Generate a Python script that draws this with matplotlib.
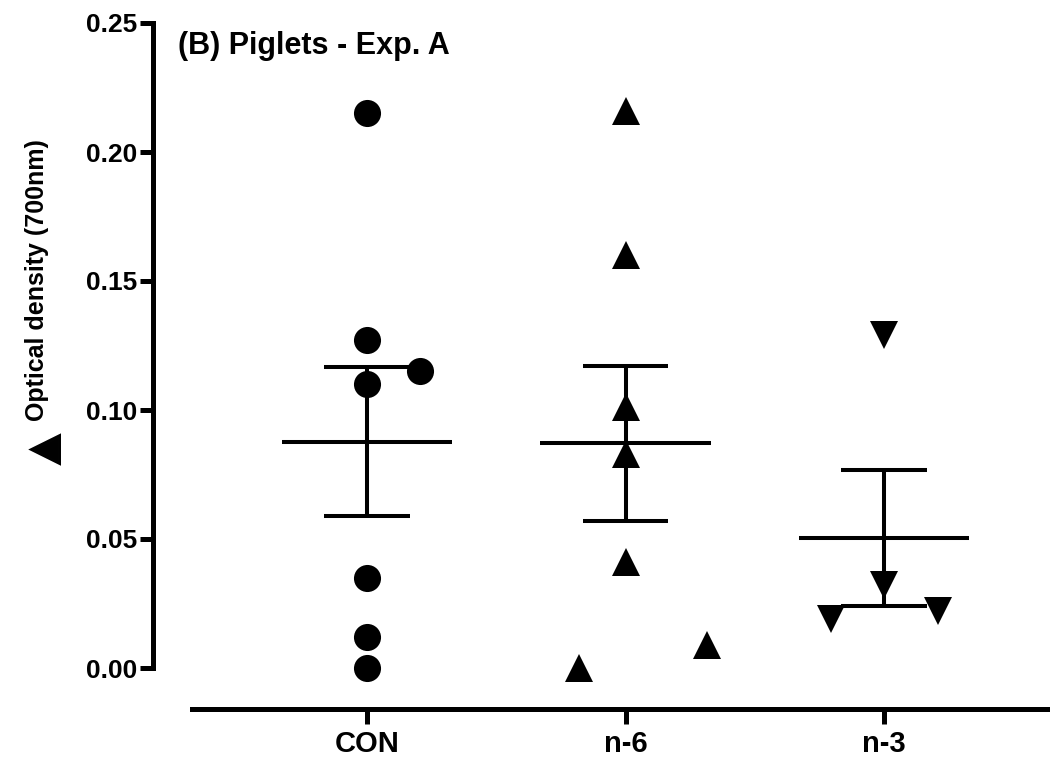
import numpy as np
import matplotlib
matplotlib.use("Agg")
import matplotlib.pyplot as plt

plt.rcParams['font.family'] = ['Liberation Sans', 'DejaVu Sans']
plt.rcParams['font.weight'] = 'bold'

# Groups and individual optical density readings (700 nm)
categories = ['CON', 'n-6', 'n-3']
con_values = [0.215, 0.127, 0.110, 0.115, 0.035, 0.012, 0.000]
n6_values = [0.216, 0.160, 0.101, 0.083, 0.041, 0.009, 0.000]
n3_values = [0.129, 0.032, 0.019, 0.022]

# Horizontal scatter offsets so overlapping points stay visible
con_offsets = [0, 0, 0, 0.205, 0, 0, 0]
n6_offsets = [0, 0, 0, 0, 0, 0.316, -0.18]
n3_offsets = [0, 0, -0.205, 0.208]

y_ticks = [0.00, 0.05, 0.10, 0.15, 0.20, 0.25]
y_tick_labels = ['0.00', '0.05', '0.10', '0.15', '0.20', '0.25']

groups = [con_values, n6_values, n3_values]
offsets = [con_offsets, n6_offsets, n3_offsets]
markers = ['o', '^', 'v']

fig = plt.figure(figsize=(10.5, 7.65), dpi=100)
ax = fig.add_axes([192 / 1050, 97 / 765, 1 - 192 / 1050, 645 / 765])

lw_err = 2.9
for i, (vals, offs, mk) in enumerate(zip(groups, offsets, markers)):
    vals = np.asarray(vals)
    mean = vals.mean()
    sem = vals.std(ddof=1) / np.sqrt(len(vals))
    # mean line, SEM whisker and caps
    ax.plot([i - 0.33, i + 0.33], [mean, mean], color='black', lw=lw_err,
            solid_capstyle='butt', zorder=2, clip_on=False)
    ax.plot([i, i], [mean - sem, mean + sem], color='black', lw=lw_err,
            solid_capstyle='butt', zorder=2, clip_on=False)
    for y in (mean - sem, mean + sem):
        ax.plot([i - 0.165, i + 0.165], [y, y], color='black', lw=lw_err,
                solid_capstyle='butt', zorder=2, clip_on=False)
    xs = i + np.asarray(offs)
    ax.plot(xs, vals, linestyle='none', marker=mk, markersize=19.5,
            color='black', markeredgewidth=0, zorder=3, clip_on=False)

ax.set_xlim(-0.677, 2.642)
ax.set_ylim(0, 0.25)

for side in ('top', 'right'):
    ax.spines[side].set_visible(False)
spine_lw = 3.6
ax.spines['left'].set_linewidth(spine_lw)
ax.spines['bottom'].set_linewidth(spine_lw)
ax.spines['left'].set_position(('outward', 28.1))
ax.spines['bottom'].set_position(('outward', 29.5))
ax.spines['left'].set_bounds(0, 0.25)
ax.spines['left'].set_capstyle('projecting')

ax.set_yticks(y_ticks)
ax.set_yticklabels(y_tick_labels)
ax.set_xticks(range(len(categories)))
ax.set_xticklabels(categories)

ax.tick_params(axis='y', length=9.5, width=spine_lw, pad=2, labelsize=19)
ax.tick_params(axis='x', length=11, width=spine_lw, pad=4, labelsize=21)
for lab in ax.get_xticklabels() + ax.get_yticklabels():
    lab.set_fontweight('bold')

# Y-axis title: large triangle symbol followed by the quantity
fig.text(37 / 1050, 1 - 438 / 765, '\u25B2', rotation=90, fontsize=40,
         fontweight='bold', ha='center', va='center')
fig.text(37 / 1050, 1 - 421 / 765, 'Optical density (700nm)', rotation=90,
         fontsize=18, fontweight='bold', ha='center', va='bottom')

fig.text(178 / 1050, (765 - 54) / 765, '(B) Piglets - Exp. A', fontsize=22,
         fontweight='bold', ha='left', va='baseline')

fig.savefig('out.png', dpi=100, facecolor='white')
